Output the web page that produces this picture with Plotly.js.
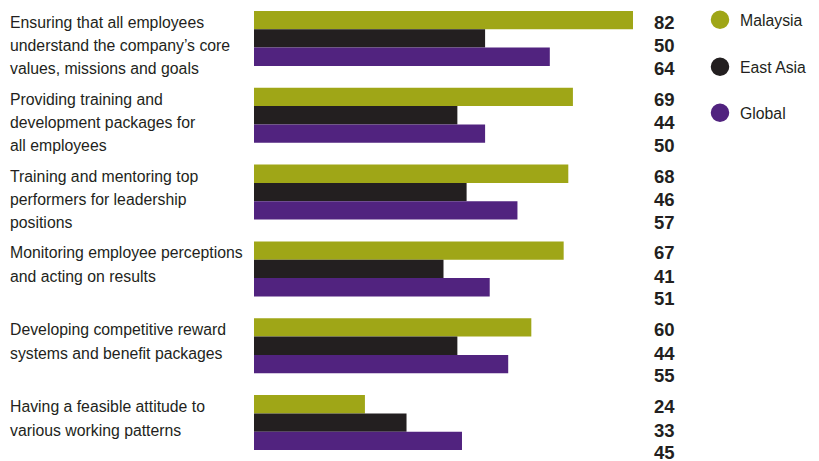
<!DOCTYPE html>
<html><head><meta charset="utf-8">
<script src="https://cdn.plot.ly/plotly-3.0.1.min.js"></script>
<style>html,body{margin:0;padding:0;background:#fff;}</style>
</head><body>
<div id="chart" style="width:819px;height:461px;"></div>
<script>
const categories = [
  "Ensuring that all employees<br>understand the company’s core<br>values, missions and goals",
  "Providing training and<br>development packages for<br>all employees",
  "Training and mentoring top<br>performers for leadership<br>positions",
  "Monitoring employee perceptions<br>and acting on results",
  "Developing competitive reward<br>systems and benefit packages",
  "Having a feasible attitude to<br>various working patterns"
];
const seriesNames = ["Malaysia", "East Asia", "Global"];
const malaysia = [82, 69, 68, 67, 60, 24];
const eastAsia = [50, 44, 46, 41, 44, 33];
const global = [64, 50, 57, 51, 55, 45];

const colors = ["#9fa617", "#231f20", "#51237f"];
const allValues = [malaysia, eastAsia, global];
const FONT = "'Liberation Sans', Arial, sans-serif";

const traces = [];
allValues.forEach((vals, i) => {
  traces.push({
    type: "bar", orientation: "h", name: seriesNames[i],
    x: vals, y: categories, marker: {color: colors[i]},
    showlegend: false, hoverinfo: "x"
  });
});
const legendIds = ["legend", "legend2", "legend3"];
seriesNames.forEach((n, i) => {
  traces.push({
    type: "scatter", mode: "markers", name: n,
    x: [null], y: [null], xaxis: "x2", yaxis: "y2",
    marker: {color: colors[i], size: 16, symbol: "circle", line: {color: colors[i], width: 2.5}},
    legend: legendIds[i], showlegend: true
  });
});

// vertical offsets (px, up positive) of the three text rows in each group
const rowShifts = [16, -7.5, -30];
const annotations = [];
categories.forEach((c) => {
  c.split("<br>").forEach((line, li) => {
    annotations.push({
      xref: "paper", yref: "y", x: -246/565, y: c,
      xanchor: "left", yanchor: "middle", align: "left",
      text: line, showarrow: false, yshift: rowShifts[li],
      font: {family: FONT, size: 15.8, color: "#231f20"}
    });
  });
});
allValues.forEach((vals, si) => {
  vals.forEach((v, ci) => {
    annotations.push({
      xref: "x", yref: "y", x: 91.5, y: categories[ci],
      xanchor: "right", yanchor: "middle",
      text: "<b>" + v + "</b>", showarrow: false, yshift: rowShifts[si],
      font: {family: FONT, size: 18.5, color: "#231f20"}
    });
  });
});

const legBase = {
  xanchor: "left", yanchor: "middle", bgcolor: "rgba(0,0,0,0)",
  borderwidth: 0, itemsizing: "trace",
  font: {family: FONT, size: 15.8, color: "#231f20"}
};
const lx = (700-254)/565;
const hidden = {showgrid: false, zeroline: false, showticklabels: false, ticks: "", fixedrange: true, visible: false};
const layout = {
  width: 819, height: 461,
  margin: {l: 254, r: 0, t: 0, b: 0, autoexpand: false},
  paper_bgcolor: "#fff", plot_bgcolor: "#fff",
  barmode: "group", bargap: 0.284, bargroupgap: 0,
  xaxis: {range: [0, 565/4.622], showgrid: false, zeroline: false, showticklabels: false, ticks: "", fixedrange: true},
  yaxis: {type: "category", range: [categories.length - 0.5, -0.5], showgrid: false, zeroline: false, showticklabels: false, ticks: "", fixedrange: true},
  xaxis2: Object.assign({overlaying: "x", range: [0, 1]}, hidden),
  yaxis2: Object.assign({overlaying: "y", range: [0, 1]}, hidden),
  legend: Object.assign({}, legBase, {x: lx, y: 1 - 20/461}),
  legend2: Object.assign({}, legBase, {x: lx, y: 1 - 67/461}),
  legend3: Object.assign({}, legBase, {x: lx, y: 1 - 113/461}),
  annotations: annotations,
  showlegend: true
};
Plotly.newPlot("chart", traces, layout, {displayModeBar: false, staticPlot: true});
</script>
</body></html>
